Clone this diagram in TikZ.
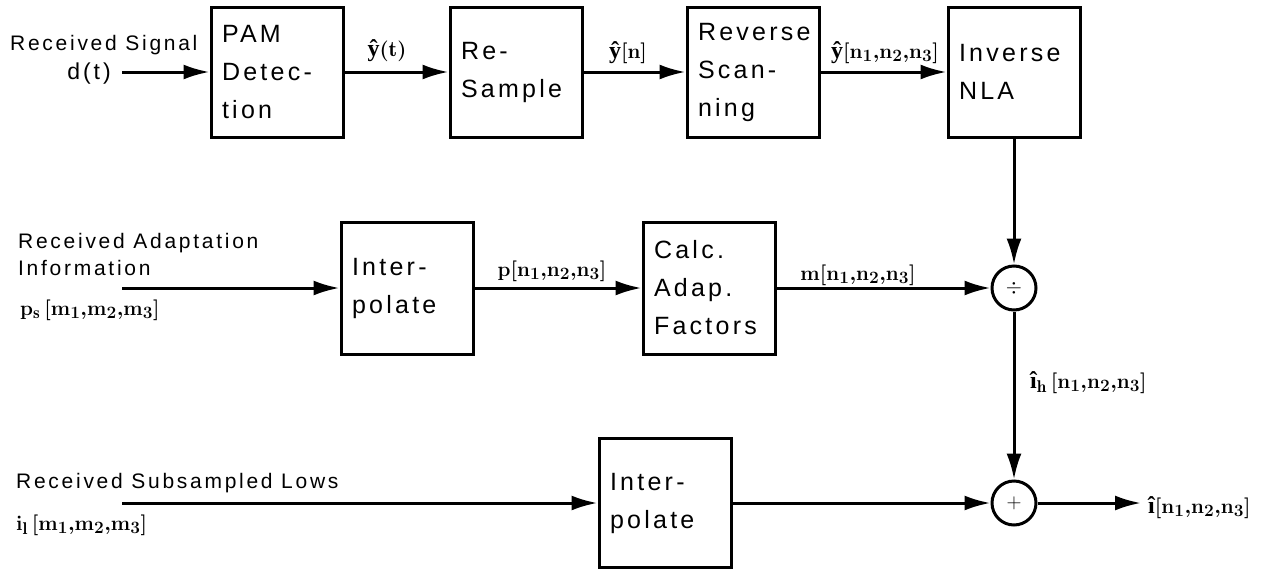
\documentclass[tikz,border=0pt]{standalone}
\usepackage{amsmath}
\usepackage{fontspec}
\newfontfamily\plotfont[LetterSpace=13]{Liberation Sans}
\newfontfamily\hatfont{Liberation Serif}
\newcommand{\yhatb}{\mbox{\hatfont\bfseries\fontsize{24}{26}\selectfont ŷ}}
\newcommand{\ihatb}{\mbox{\hatfont\bfseries\fontsize{24}{26}\selectfont î}}
\DeclareMathSizes{22}{22}{17}{13}
\usetikzlibrary{arrows.meta}
\begin{document}
\begin{tikzpicture}[x=1pt,y=-1pt,
  blk/.style={draw, line width=3pt, minimum width=132pt, text width=110pt,
    align=left, inner sep=0pt, font=\plotfont\fontsize{25}{38}\selectfont},
  arr/.style={line width=3pt, -{Latex[length=26pt,width=15pt]}},
  sumc/.style={draw, circle, line width=3pt, minimum size=44pt, inner sep=0pt,
    font=\fontsize{22}{22}\selectfont},
  txt/.style={font=\plotfont\fontsize{21}{25}\selectfont, inner sep=0pt},
  mlab/.style={font=\fontsize{22}{26}\selectfont\boldmath, inner sep=0pt}]
\useasboundingbox (0,0) rectangle (1274,573);

% blocks
\node[blk, minimum height=130pt] (pam) at (277,72) {PAM\\Detec-\\tion};
\node[blk, minimum height=130pt] (res) at (516,72) {Re-\\Sample};
\node[blk, minimum height=130pt] (rev) at (753,72) {Reverse\\Scan-\\ning};
\node[blk, minimum height=130pt] (nla) at (1014,72) {Inverse\\NLA};
\node[blk, minimum height=132pt] (int1) at (407,288) {Inter-\\polate};
\node[blk, minimum height=132pt] (calc) at (709,288) {Calc.\\Adap.\\Factors};
\node[blk, minimum height=129pt] (int2) at (665,503) {Inter-\\polate};
\node[sumc] (div) at (1014,288) {$\div$};
\node[sumc] (add) at (1014,503) {$+$};

% free ends
\coordinate (inS) at (122,72);
\coordinate (inA) at (122,288);
\coordinate (inL) at (122,503);
\coordinate (outI) at (1141,503);

% connectors
\draw[arr] (inS) -- (pam);
\draw[arr] (pam) -- (res);
\draw[arr] (res) -- (rev);
\draw[arr] (rev) -- (nla);
\draw[arr] (nla) -- (div);
\draw[arr] (inA) -- (int1);
\draw[arr] (int1) -- (calc);
\draw[arr] (calc) -- (div);
\draw[arr] (div) -- (add);
\draw[arr] (inL) -- (int2);
\draw[arr] (int2) -- (add);
\draw[arr] (add) -- (outI);

% labels
\node[txt, anchor=base west] (rsig) at (10,50) {Received Signal};
\node[anchor=base, inner sep=0pt, font=\plotfont\fontsize{23}{26}\selectfont] (ldt) at (89,79) {d(t)};
\node[mlab, anchor=base] (lyt) at (387,56) {$\yhatb(\mathrm{t})$};
\node[mlab, anchor=base] (lyn) at (628,58) {$\yhatb[\mathbf{n}]$};
\node[mlab, anchor=base] (lyn3) at (885,58) {$\yhatb[\mathbf{n}_1{,}\mathbf{n}_2{,}\mathbf{n}_3]$};
\node[txt, anchor=base west] (radap) at (18,248) {Received Adaptation};
\node[txt, anchor=base west] (rinfo) at (18,275) {Information};
\node[mlab, anchor=base west] (lps) at (20,315) {$\mathbf{p}_{\mathrm{s}}\,[\mathbf{m}_1{,}\mathbf{m}_2{,}\mathbf{m}_3]$};
\node[mlab, anchor=base] (lp) at (552,276) {$\mathbf{p}[\mathbf{n}_1{,}\mathbf{n}_2{,}\mathbf{n}_3]$};
\node[mlab, anchor=base] (lm) at (858,280) {$\mathbf{m}[\mathbf{n}_1{,}\mathbf{n}_2{,}\mathbf{n}_3]$};
\node[mlab, anchor=base west] (lih) at (1030,388) {$\ihatb_{\mathrm{h}}\,[\mathbf{n}_1{,}\mathbf{n}_2{,}\mathbf{n}_3]$};
\node[txt, anchor=base west] (rlows) at (16,488) {Received Subsampled Lows};
\node[mlab, anchor=base west] (lil) at (16,530) {$\mathbf{i}_{\mathrm{l}}\,[\mathbf{m}_1{,}\mathbf{m}_2{,}\mathbf{m}_3]$};
\node[mlab, anchor=base west] (lout) at (1148,513) {$\ihatb[\mathbf{n}_1{,}\mathbf{n}_2{,}\mathbf{n}_3]$};
\end{tikzpicture}
\end{document}
